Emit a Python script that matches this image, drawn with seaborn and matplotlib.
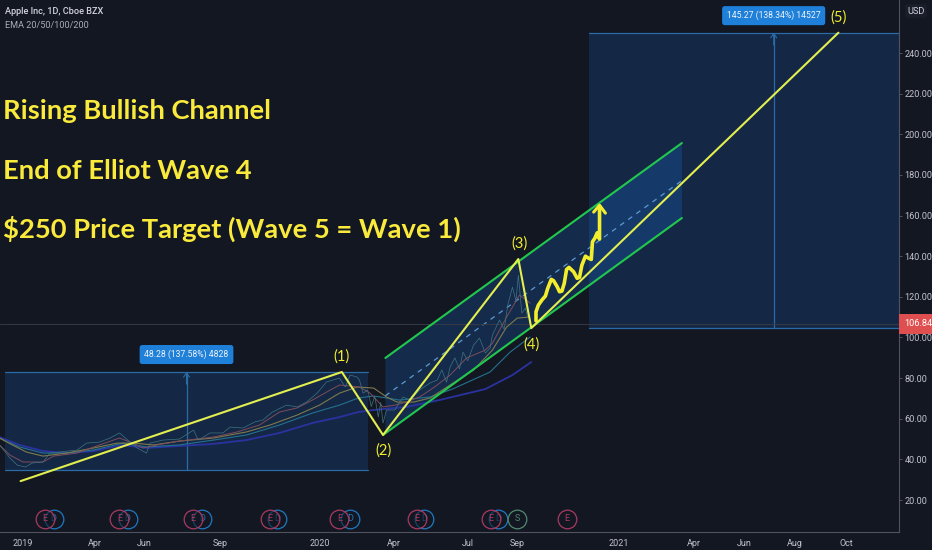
import matplotlib
matplotlib.use("Agg")
import matplotlib.pyplot as plt
import seaborn as sns
from matplotlib.colors import to_rgba

BG = "#131722"
sns.set_theme(style="dark", rc={"axes.facecolor": BG, "figure.facecolor": BG,
                                "axes.grid": False, "font.family": ["Lato", "DejaVu Sans"]})

# x values are trading sessions counted from the first session of 2019
tick_sessions = [0, 61, 103, 168, 252, 315, 378, 420, 506, 570, 613, 656, 700]
tick_names = ["2019", "Apr", "Jun", "Sep", "2020", "Apr", "Jul", "Sep", "2021", "Apr", "Jun", "Aug", "Oct"]
price_ticks = [20, 40, 60, 80, 100, 120, 140, 160, 180, 200, 220, 240]

price_s = [-20, -15, -11, -5, 2, 8, 17, 23, 31, 46, 54, 65, 74, 82, 89, 97, 105, 108, 119, 133, 145, 149, 159, 170, 176, 187,
           197, 204, 212, 224, 233, 241, 250, 258, 269, 274, 278, 284, 286, 289, 293, 296, 299, 302, 304, 306, 309, 316, 323, 329,
           337, 346, 352, 356, 360, 363, 367, 371, 374, 378, 383, 388, 393, 397, 399, 405, 409, 412, 416, 419, 421, 424, 427, 429]
price_v = [47.1, 43.6, 40.7, 37.2, 36.2, 38.2, 38.7, 43.1, 43.6, 44.6, 48.0, 48.5, 50.5, 53.0, 49.5, 45.6, 43.1, 48.0, 49.5,
           50.0, 54.4, 49.5, 53.0, 53.0, 55.9, 55.4, 58.4, 59.4, 63.3, 66.7, 65.8, 68.2, 72.6, 78.1, 80.0, 75.6, 81.5, 80.5,
           79.0, 72.6, 74.1, 66.0, 71.0, 60.8, 68.0, 57.9, 64.3, 64.3, 70.7, 69.2, 74.1, 77.6, 79.0, 84.0, 78.0, 85.4, 90.0,
           84.5, 92.8, 88.5, 96.3, 99.7, 92.3, 94.8, 101.2, 108.6, 104.0, 115.9, 124.8, 118.0, 130.7, 112.0, 114.5, 110.0]

ema20_s = [-20, -11, 0, 17, 26, 46, 65, 82, 91, 102, 114, 133, 162, 182, 201, 218, 233, 246, 258, 269, 286, 295, 306, 316,
           326, 337, 346, 352, 363, 377, 393, 399, 411, 422, 431]
ema20_v = [47.1, 42.1, 38.7, 38.7, 41.6, 43.1, 47.1, 50.5, 48.5, 45.6, 47.1, 49.0, 51.0, 53.5, 56.9, 63.3, 65.3, 69.2, 73.1,
           76.6, 75.6, 72.6, 65.8, 66.7, 68.2, 70.7, 74.1, 76.6, 81.5, 89.9, 93.8, 97.2, 110.0, 120.9, 116.9]
ema50_s = [-20, -9, 3, 17, 37, 60, 80, 94, 111, 133, 162, 190, 210, 233, 252, 269, 284, 298, 309, 318, 332, 346, 363, 383,
           399, 411, 420, 429]
ema50_v = [50.5, 47.1, 43.6, 41.6, 43.1, 45.6, 48.0, 48.0, 47.1, 49.0, 50.5, 53.5, 56.9, 61.8, 66.7, 72.6, 75.6, 75.1, 70.7,
           68.2, 68.2, 70.2, 76.6, 84.0, 93.8, 105.1, 109.5, 110.0]
ema100_s = [-20, -3, 17, 37, 60, 85, 105, 133, 162, 190, 218, 246, 269, 285, 298, 320, 346, 365, 397, 414, 431]
ema100_v = [50.5, 46.1, 43.1, 43.1, 44.6, 48.0, 46.1, 47.1, 49.5, 52.0, 56.9, 62.8, 66.7, 70.2, 71.2, 69.2, 70.7, 74.6, 83.0,
            92.8, 100.2]
ema200_s = [-20, -3, 17, 37, 60, 85, 105, 133, 162, 190, 218, 246, 269, 285, 298, 326, 354, 393, 416, 432]
ema200_v = [51.0, 47.1, 44.1, 43.1, 44.1, 47.1, 45.6, 46.6, 47.6, 49.5, 53.0, 57.9, 60.8, 63.3, 64.3, 65.8, 69.2, 74.6, 81.5,
            87.9]

wave_s = [-2, 271, 306, 421, 432, 693]
wave_v = [29.3, 83.0, 52.0, 138.6, 104.6, 250.0]
wave_names = ["(1)", "(2)", "(3)", "(4)", "(5)"]
wave_name_s = [271, 306, 422, 432, 693]
wave_name_v = [90.8, 44.2, 146.4, 96.3, 257.6]

path_s = [436, 436, 438, 441, 444, 446, 449, 451, 454, 456, 458, 460, 462, 464, 468, 471, 473, 475, 478, 481, 483, 484, 486,
          488, 490, 490]
path_v = [108.2, 112.6, 115.9, 118.4, 120.4, 124.2, 128.6, 127.9, 125.0, 122.5, 122.8, 126.6, 133.5, 134.5, 132.3, 129.1,
          129.6, 135.6, 140.0, 138.9, 138.4, 147.1, 148.8, 151.5, 148.4, 164.0]
head_s = [485, 490, 495]
head_v = [161.7, 165.1, 161.2]

chan_s = [308, 560]
chan_up = [89.9, 195.7]
chan_mid = [71.3, 177.2]
chan_lo = [52.7, 158.8]
chan_start_s = [306, 560]
chan_start_lo = [52.0, 158.8]

box1_s = [-15, 293]
box1_lo, box1_hi = 34.72, 83.0
box1_mid = 139
box2_s = [481, 744.5]
box2_lo, box2_hi = 104.73, 250.0
box2_mid = 638
box_labels = ["48.28 (137.58%) 4828", "145.27 (138.34%) 14527"]
box_label_v = [91.6, 258.4]

last_price = 106.84
title_lines = ["Rising Bullish Channel", "End of Elliot Wave 4", "$250 Price Target (Wave 5 = Wave 1)"]
title_y = [0.7763, 0.6635, 0.5526]

earn_s = [19, 82, 144.5, 210, 269, 335, 398, 462]
div_s = [26, 89, 152, 216, 278, 341, 404]
split_s = [420]
event_v = 10.65

fig = plt.figure(figsize=(9.32, 5.5), dpi=100)
ax = fig.add_axes([0, 18 / 550, 899 / 932, 532 / 550])
ax.set_xlim(-19.5, 744.5)
ax.set_ylim(4.25, 266.1)


def line(x, y, color, lw, z=3, **kw):
    sns.lineplot(x=x, y=y, ax=ax, color=color, linewidth=lw, sort=False, estimator=None,
                 legend=False, zorder=z, solid_capstyle="round", **kw)


BLUE = "#1e7ef5"
EDGE = "#2a6ba6"
for xs, lo, hi, mid in [(box1_s, box1_lo, box1_hi, box1_mid), (box2_s, box2_lo, box2_hi, box2_mid)]:
    ax.fill_between(xs, lo, hi, facecolor=to_rgba(BLUE, 0.17), edgecolor="none", zorder=1)
    line(xs, [hi, hi], EDGE, 0.9, 2)
    line(xs, [lo, lo], EDGE, 0.9, 2)
    line([mid, mid], [lo, hi], EDGE, 0.9, 2)
    ax.annotate("", xy=(mid, hi), xytext=(mid, hi - 6), zorder=2,
                arrowprops=dict(arrowstyle="->,head_width=0.18,head_length=0.25", color=EDGE, lw=0.8, shrinkA=0, shrinkB=0))

ax.fill_between(chan_s, chan_lo, chan_up, facecolor=to_rgba(BLUE, 0.2), edgecolor="none", zorder=1)
sns.lineplot(x=chan_s, y=chan_mid, ax=ax, color="#5b9bd0", linewidth=0.9, linestyle=(0, (4, 4)),
             sort=False, estimator=None, legend=False, zorder=2)

line([-19.5, 744.5], [last_price, last_price], "#363a45", 0.7, 2)

line(ema200_s, ema200_v, "#2a32a0", 1.3)
line(ema100_s, ema100_v, "#24708f", 0.8)
line(ema50_s, ema50_v, "#7d7a4c", 0.8)
line(ema20_s, ema20_v, "#7e4c5a", 0.7)
line(price_s, price_v, "#3f7480", 0.5)

line(chan_s, chan_up, "#22c84e", 1.5, 4)
line(chan_start_s, chan_start_lo, "#22c84e", 1.5, 4)
line(wave_s, wave_v, "#e3ee4f", 1.5, 5)
line(path_s, path_v, "#f2ee2e", 2.6, 6)
line(head_s, head_v, "#f2ee2e", 2.2, 6)

for n, sx, sy in zip(wave_names, wave_name_s, wave_name_v):
    ax.text(sx, sy, n, color="#f2ee2e", fontsize=10.5, ha="center", va="center", zorder=7)

for sx, sy, t in zip([box1_mid, box2_mid], box_label_v, box_labels):
    ax.text(sx, sy, t, color="#f0f3fa", fontsize=6.2, ha="center", va="center", zorder=7, family="Roboto",
            bbox=dict(boxstyle="round,pad=0.55,rounding_size=0.3", facecolor="#1e80d8", edgecolor="none"))

for t, y in zip(title_lines, title_y):
    ax.text(3 / 899, y, t, transform=ax.transAxes, color="#f9ea3c", fontsize=19.7, fontweight="bold",
            ha="left", va="baseline", zorder=8)
ax.text(5 / 899, 1 - 12 / 532, "Apple Inc, 1D, Cboe BZX", transform=ax.transAxes, color="#d1d4dc",
        fontsize=6.6, ha="left", va="center", fontweight="medium", family="Roboto")
ax.text(5 / 899, 1 - 25 / 532, "EMA 20/50/100/200", transform=ax.transAxes, color="#a9acb5",
        fontsize=6.6, ha="left", va="center", family="Roboto")


def events(xs, color, label, z):
    sns.scatterplot(x=xs, y=[event_v] * len(xs), ax=ax, s=180, marker="o", facecolor=to_rgba(BG, 0.55),
                    edgecolor=color, linewidth=0.9, legend=False, zorder=z, clip_on=False)
    for sx in xs:
        ax.text(sx, event_v, label, color=color, fontsize=6.5, ha="center", va="center", zorder=z, family="Roboto")


events(div_s, "#1f78c0", "D", 3)
events(split_s, "#4f8a70", "S", 3)
events(earn_s, "#a83a62", "E", 4)

ax.set_xticks(tick_sessions, tick_names, family="Roboto")
ax.yaxis.tick_right()
ax.set_yticks(price_ticks, [f"{v:.2f}" for v in price_ticks], family="Roboto")
ax.tick_params(axis="x", colors="#c0c3cb", labelsize=6.5, length=2.5, width=0.7, pad=2.5, color="#50535e")
ax.tick_params(axis="y", colors="#c0c3cb", labelsize=6.6, length=2.5, width=0.7, pad=1.5, color="#50535e")
for s in ["top", "left"]:
    ax.spines[s].set_visible(False)
for s in ["bottom", "right"]:
    ax.spines[s].set_color("#50535e")
    ax.spines[s].set_linewidth(0.8)

ax.annotate("106.84", xy=(1, last_price), xycoords=("axes fraction", "data"), xytext=(4, 0),
            textcoords="offset points", color="white", fontsize=6.6, ha="left", va="center",
            annotation_clip=False, zorder=9, family="Roboto",
            bbox=dict(boxstyle="square,pad=0.6", facecolor="#e04f50", edgecolor="none"))
ax.text(1 + 17 / 899, 1 - 11 / 532, "USD", transform=ax.transAxes, color="#d1d4dc", fontsize=6.6,
        ha="center", va="center", family="Roboto",
        bbox=dict(boxstyle="round,pad=0.25", facecolor="#1a1e2b", edgecolor="none"))

fig.savefig("out.png", dpi=100, facecolor=BG)
